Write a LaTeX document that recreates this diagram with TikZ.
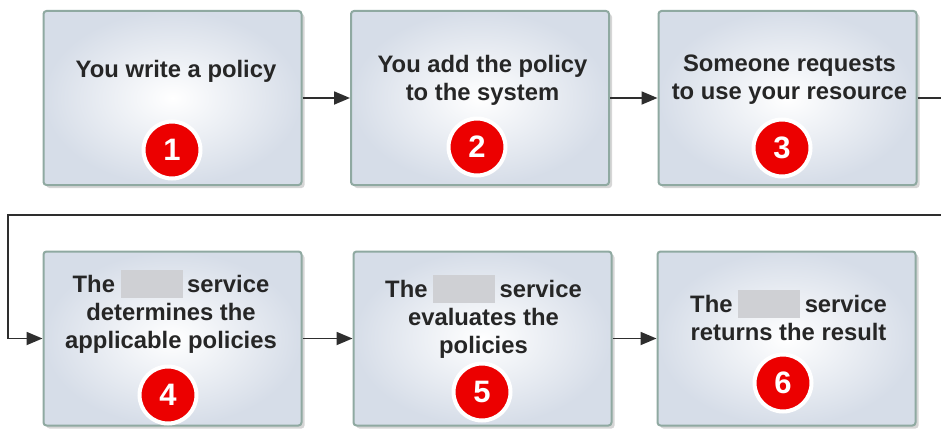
\documentclass[tikz,border=0pt]{standalone}
\usepackage{fontspec}
\setmainfont{Liberation Sans}
\usetikzlibrary{arrows.meta,shadows}
\definecolor{boxedge}{HTML}{8FA9A1}
\definecolor{boxfill}{HTML}{D6DDE8}
\definecolor{stepred}{HTML}{EC0000}
\definecolor{blankgray}{HTML}{CFD0D4}
\definecolor{linecol}{HTML}{2E2E2E}
\newcommand{\blankname}{\hspace{-1pt}\smash{\textcolor{blankgray}{\rule[-6pt]{62pt}{28pt}}}\hspace{-2pt}}
\begin{document}
\begin{tikzpicture}[x=1pt,y=-1pt,
  stepbox/.style={draw=boxedge, line width=2pt, rounded corners=3pt,
    shading=radial, inner color=white, outer color=boxfill,
    minimum width=258pt, minimum height=174pt, inner sep=0pt,
    drop shadow={shadow xshift=3pt, shadow yshift=-3pt, opacity=0.35, fill=black!45}},
  steptext/.style={anchor=north, align=center, inner sep=0pt, text=black!85,
    font=\fontsize{23.8pt}{28pt}\selectfont\bfseries},
  badge/.style={circle, fill=stepred, draw=white, line width=4pt,
    minimum size=57pt, inner sep=0pt, text=white,
    font=\fontsize{31pt}{31pt}\selectfont\bfseries},
  conn/.style={draw=linecol, line width=1.8pt,
    -{Triangle[length=16pt,width=13pt]}}]
\clip (0,0) rectangle (941,428);
\fill[white] (0,0) rectangle (941,428);
% boxes
\node[stepbox] (b1) at (172.5,98) {};
\node[stepbox] (b2) at (480,98) {};
\node[stepbox] (b3) at (787.5,98) {};
\node[stepbox] (b4) at (172.5,338.5) {};
\node[stepbox] (b5) at (482.5,338.5) {};
\node[stepbox] (b6) at (786.5,338.5) {};
% texts
\node[steptext] (t1) at (176,60) {You write a policy};
\node[steptext] (t2) at (482.5,55) {You add the policy\\to the system};
\node[steptext] (t3) at (789.5,55) {Someone requests\\to use your resource};
\node[steptext] (t4) at (171,275) {The \blankname{} service\\determines the\\applicable policies};
\node[steptext] (t5) at (483.5,280) {The \blankname{} service\\evaluates the\\policies};
\node[steptext] (t6) at (788.5,295) {The \blankname{} service\\returns the result};
% badges
\node[badge] (n1) at (172,150) {1};
\node[badge] (n2) at (477,147) {2};
\node[badge] (n3) at (782,148) {3};
\node[badge] (n4) at (168,395) {4};
\node[badge] (n5) at (482,392) {5};
\node[badge] (n6) at (783,383) {6};
% connectors
\coordinate (r1) at (960,98);
\coordinate (r2) at (960,215);
\coordinate (l1) at (8,215);
\draw[conn] (b1) -- (b2);
\draw[conn] (b2) -- (b3);
\draw[conn] (b3.east) -- (r1) -- (r2) -- (l1) |- (b4.west);
\draw[conn] (b4) -- (b5);
\draw[conn] (b5) -- (b6);
\end{tikzpicture}
\end{document}
